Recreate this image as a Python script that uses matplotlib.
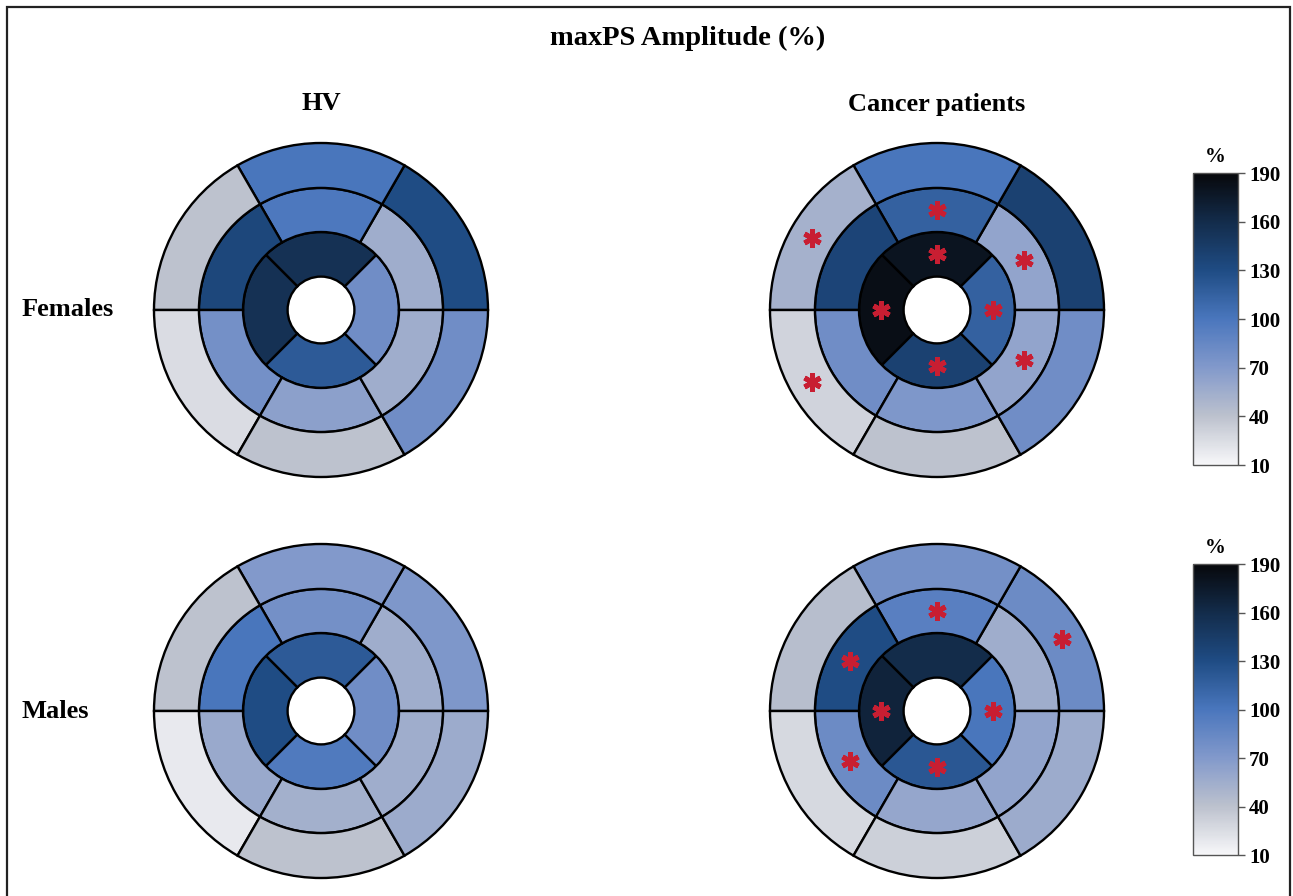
"""
Mapas polares (bullseye, 16 segmentos) da amplitude maxPS (%),
voluntários saudáveis (HV) vs. pacientes oncológicos, por sexo.
"""

import matplotlib
matplotlib.use("Agg")
import matplotlib.pyplot as plt
import numpy as np
from matplotlib.colors import LinearSegmentedColormap, Normalize
from matplotlib.cm import ScalarMappable
from matplotlib.patches import Rectangle

# ------------------------------------------------------------------ dados
# anéis basal/médio: centros dos segmentos em 30, 90, 150, 210, 270, 330 graus
# anel apical: centros em 0, 90, 180, 270 graus
ANG_6 = [30, 90, 150, 210, 270, 330]
ANG_4 = [0, 90, 180, 270]

hv_f_basal = [130, 100, 40, 25, 40, 80]
hv_f_mid = [55, 98, 135, 78, 65, 55]
hv_f_apical = [80, 155, 155, 120]

ca_f_basal = [140, 100, 52, 30, 40, 80]
ca_f_mid = [62, 115, 137, 80, 72, 62]
ca_f_apical = [115, 180, 185, 140]

hv_m_basal = [72, 70, 40, 18, 40, 57]
hv_m_mid = [55, 78, 100, 58, 53, 55]
hv_m_apical = [80, 120, 130, 97]

ca_m_basal = [82, 78, 43, 27, 32, 57]
ca_m_mid = [55, 92, 130, 82, 60, 62]
ca_m_apical = [100, 160, 167, 122]

# segmentos com diferença significativa (asterisco)
ca_f_sig_basal = [0, 0, 1, 1, 0, 0]
ca_f_sig_mid = [1, 1, 0, 0, 0, 1]
ca_f_sig_apical = [1, 1, 1, 1]

ca_m_sig_basal = [1, 0, 0, 0, 0, 0]
ca_m_sig_mid = [0, 1, 1, 1, 0, 0]
ca_m_sig_apical = [1, 0, 1, 1]

cbar_ticks = [10, 40, 70, 100, 130, 160, 190]

# ------------------------------------------------------------------ estilo
W, H = 1293, 896
RAIOS = [0.2, 0.467, 0.731, 1.0]   # furo, apical, médio, basal
R_PX = 167                          # raio externo em pixels
FONTE = ["Liberation Serif", "DejaVu Serif"]

cmap = LinearSegmentedColormap.from_list(
    "maxps",
    [(0.0, "#f7f7f9"), (1 / 6, "#bcc1cd"), (2 / 6, "#8299cb"),
     (3 / 6, "#4a76bd"), (4 / 6, "#1f4c84"), (5 / 6, "#132c4b"),
     (1.0, "#07080b")],
)
norm = Normalize(10, 190)

fig = plt.figure(figsize=(W / 100, H / 100), dpi=100)

# moldura
fig.patches.append(Rectangle((7 / W, -0.01), (1290 - 7) / W, (H - 7) / H + 0.01,
                             transform=fig.transFigure, fill=False,
                             edgecolor="#222222", linewidth=1.6))


def bullseye(cx, cy, basal, mid, apical, sig=None):
    r_ax = R_PX * 1.02
    ax = fig.add_axes([(cx - r_ax) / W, (H - cy - r_ax) / H, 2 * r_ax / W, 2 * r_ax / H],
                      projection="polar")
    ax.set_axis_off()
    aneis = [(apical, ANG_4, 90, RAIOS[0], RAIOS[1]),
             (mid, ANG_6, 60, RAIOS[1], RAIOS[2]),
             (basal, ANG_6, 60, RAIOS[2], RAIOS[3])]
    for vals, ang, larg, r0, r1 in aneis:
        ax.bar(np.deg2rad(ang), r1 - r0, width=np.deg2rad(larg), bottom=r0,
               color=cmap(norm(np.array(vals))), edgecolor="black", linewidth=1.7)
    if sig is not None:
        for flags, (vals, ang, larg, r0, r1) in zip(sig, aneis):
            th = [np.deg2rad(a) for a, f in zip(ang, flags) if f]
            ax.plot(th, [(r0 + r1) / 2] * len(th), linestyle="none",
                    marker=(6, 2, 0), markersize=13, markeredgewidth=3.6,
                    color="#c81e32")
    ax.set_ylim(0, 1.02)
    return ax


bullseye(321, 310, hv_f_basal, hv_f_mid, hv_f_apical)
bullseye(937, 310, ca_f_basal, ca_f_mid, ca_f_apical,
         sig=[ca_f_sig_apical, ca_f_sig_mid, ca_f_sig_basal])
bullseye(321, 711, hv_m_basal, hv_m_mid, hv_m_apical)
bullseye(937, 711, ca_m_basal, ca_m_mid, ca_m_apical,
         sig=[ca_m_sig_apical, ca_m_sig_mid, ca_m_sig_basal])

# barras de cor
for topo, base in [(173, 465), (564, 855)]:
    cax = fig.add_axes([1193 / W, (H - base) / H, 45 / W, (base - topo) / H])
    cb = fig.colorbar(ScalarMappable(norm=norm, cmap=cmap), cax=cax, ticks=cbar_ticks)
    cb.outline.set_edgecolor("#555555")
    cb.outline.set_linewidth(1.0)
    cax.tick_params(length=5, width=1, color="#555555", pad=3)
    for t in cax.get_yticklabels():
        t.set_family(FONTE)
        t.set_fontweight("bold")
        t.set_fontsize(15)
    cax.text(0.5, 1.02, "%", transform=cax.transAxes, ha="center", va="bottom",
             family=FONTE, fontweight="bold", fontsize=15)

# textos
kw = dict(family=FONTE, fontweight="bold", fontsize=19)
fig.text(688 / W, 1 - 38 / H, "maxPS Amplitude (%)", ha="center", va="center",
         family=FONTE, fontweight="bold", fontsize=20.5)
fig.text(321 / W, 1 - 104 / H, "HV", ha="center", va="center", **kw)
fig.text(937 / W, 1 - 104 / H, "Cancer patients", ha="center", va="center", **kw)
fig.text(22 / W, 1 - 310 / H, "Females", ha="left", va="center", **kw)
fig.text(22 / W, 1 - 712 / H, "Males", ha="left", va="center", **kw)

fig.savefig("out.png", dpi=100)
